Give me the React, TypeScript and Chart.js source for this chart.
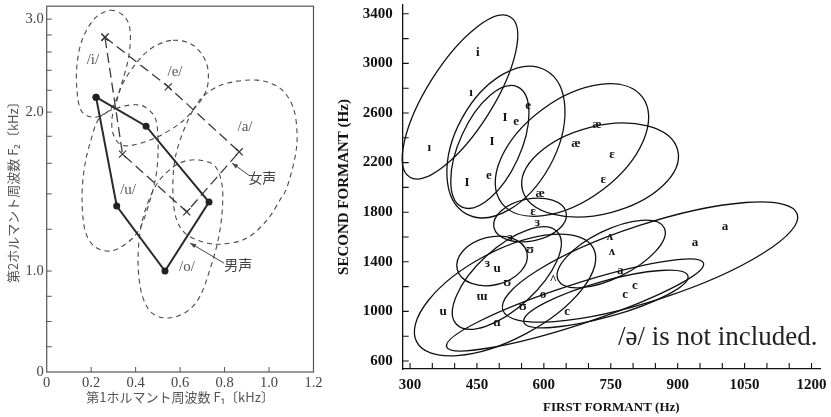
import React, { useEffect, useRef } from 'react';
import { Chart, registerables, LinearScale } from 'chart.js';

Chart.register(...registerables);

// ---------------- Left chart (Japanese vowels), values in kHz ----------------
const jpVowels = ['/i/', '/e/', '/a/', '/o/', '/u/'];
const maleF1 = [0.222, 0.447, 0.730, 0.532, 0.315];
const maleF2 = [2.135, 1.881, 1.351, 1.000, 1.328];
const femaleF1 = [0.262, 0.547, 0.866, 0.630, 0.341];
const femaleF2 = [2.773, 2.233, 1.682, 1.295, 1.665];
const vowelLabelF1 = [0.208, 0.577, 0.892, 0.631, 0.366];
const vowelLabelF2 = [2.508, 2.380, 1.873, 1.018, 1.423];

const regionIF1 = [0.285, 0.348, 0.375, 0.370, 0.339, 0.303, 0.258, 0.204, 0.154, 0.136, 0.136, 0.159, 0.213];
const regionIF2 = [3.118, 3.038, 2.858, 2.564, 2.278, 2.070, 1.982, 1.957, 2.017, 2.201, 2.454, 2.736, 2.999];
const regionEF1 = [0.568, 0.658, 0.717, 0.726, 0.703, 0.658, 0.600, 0.496, 0.388, 0.330, 0.298, 0.294, 0.312, 0.343, 0.406, 0.478];
const regionEF2 = [2.736, 2.678, 2.486, 2.278, 2.135, 2.017, 1.906, 1.793, 1.732, 1.739, 1.824, 1.948, 2.079, 2.268, 2.486, 2.654];
const regionAF1 = [0.658, 0.721, 0.811, 0.946, 1.049, 1.108, 1.126, 1.117, 1.081, 1.049, 0.991, 0.901, 0.793, 0.703, 0.622, 0.582, 0.568, 0.573, 0.600];
const regionAF2 = [2.017, 2.172, 2.268, 2.299, 2.220, 2.044, 1.824, 1.644, 1.442, 1.363, 1.249, 1.155, 1.125, 1.135, 1.180, 1.260, 1.392, 1.587, 1.770];
const regionUF1 = [0.240, 0.330, 0.420, 0.474, 0.496, 0.501, 0.492, 0.465, 0.420, 0.361, 0.285, 0.213, 0.172, 0.159, 0.168, 0.195];
const regionUF2 = [1.957, 2.044, 2.062, 1.991, 1.890, 1.694, 1.519, 1.363, 1.206, 1.130, 1.091, 1.115, 1.196, 1.363, 1.553, 1.747];
const regionOF1 = [0.568, 0.622, 0.690, 0.757, 0.789, 0.789, 0.771, 0.739, 0.690, 0.627, 0.546, 0.474, 0.429, 0.411, 0.420, 0.451, 0.501];
const regionOF2 = [1.573, 1.615, 1.622, 1.580, 1.454, 1.293, 1.145, 1.022, 0.752, 0.594, 0.535, 0.584, 0.762, 1.026, 1.185, 1.333, 1.474];

const voiceLabels = ['女声', '男声'];
const voiceLabelF1 = [0.969, 0.861];
const voiceLabelF2 = [1.500, 1.026];
const voiceArrowFromF1 = [0.915, 0.798];
const voiceArrowFromF2 = [1.513, 1.035];
const voiceArrowToF1 = [0.834, 0.645];
const voiceArrowToF2 = [1.601, 1.130];

const jpXTicks = [0, 0.2, 0.4, 0.6, 0.8, 1.0, 1.2];
const jpYTicks = [0, 0.25, 0.5, 0.75, 1.0, 1.2, 1.4, 1.6, 1.8, 2.0, 2.2, 2.4, 2.6, 2.8, 3.0];
const jpYLabelled = [0, 1, 2, 3];

// ---------------- Right chart (English vowels), values in Hz ----------------
const enSymbols = ['i', 'ı', 'ı', 'I', 'I', 'I', 'e', 'e', 'e', 'æ', 'æ', 'æ', 'ɛ', 'ɛ', 'ɛ', 'ɜ', 'ɜ', 'ɜ', 'u', 'ʊ', 'ʊ', 'ɯ', 'u', 'o', 'ʊ', 'ɑ', '^', 'ʌ', 'ʌ', 'c', 'c', 'c', 'a', 'a', 'a'];
const enSymbolF1 = [452, 437, 343, 513, 484, 428, 538, 565, 477, 719, 672, 592, 753, 733, 576, 585, 524, 473, 495, 569, 518, 461, 374, 598, 553, 495, 621, 748, 753, 652, 804, 782, 771, 939, 1006];
const enSymbolF2 = [3084, 2761, 2318, 2560, 2366, 2036, 2528, 2657, 2092, 2503, 2350, 1947, 2261, 2060, 1802, 1713, 1592, 1382, 1342, 1495, 1229, 1116, 995, 1132, 1036, 907, 1253, 1600, 1479, 995, 1205, 1132, 1326, 1552, 1681];

// regions: centre, end of one semi-axis, end of the conjugate semi-axis
const enRegionCF1 = [412, 479, 515, 663, 726, 569, 484, 517, 513, 739, 751, 838, 670];
const enRegionCF2 = [2729, 2326, 2366, 2302, 2140, 1737, 1407, 1269, 1132, 1100, 1463, 1398, 1052];
const enRegionMajF1 = [525, 541, 604, 821, 900, 650, 562, 630, 711, 923, 870, 1168, 958];
const enRegionMajF2 = [3374, 2811, 2945, 2728, 2300, 1797, 1476, 1642, 1510, 1286, 1673, 1786, 1389];
const enRegionMinF1 = [475, 541, 613, 731, 750, 579, 497, 563, 559, 750, 774, 865, 684];
const enRegionMinF2 = [2587, 2225, 2171, 1979, 1797, 1571, 1219, 1092, 819, 961, 1289, 1107, 898];

const enXTicks = [300, 350, 400, 450, 500, 550, 600, 650, 700, 750, 800, 850, 900, 950, 1000, 1050, 1100, 1150, 1200];
const enXLabelled = [300, 450, 600, 750, 900, 1050, 1200];
const enYTicks = [600, 800, 1000, 1200, 1400, 1600, 1800, 2000, 2200, 2400, 2600, 2800, 3000, 3200, 3400];
const enYLabelled = [600, 1000, 1400, 1800, 2200, 2600, 3000, 3400];
const enNote = '/ə/ is not included.';
const enNoteF1 = 990;
const enNoteF2 = 785;

const SERIF = '"Liberation Serif", "DejaVu Serif", serif';
const CJK = '"Noto Sans CJK JP", "Noto Sans", sans-serif';

// ---------------- custom warped scale (linear below 1 kHz, logarithmic above) ----------------
const LOG_GAIN = 2.272;
function warp(v: number) { return v <= 1 ? v : 1 + LOG_GAIN * Math.log(v); }
function unwarp(w: number) { return w <= 1 ? w : Math.exp((w - 1) / LOG_GAIN); }

class WarpScale extends (LinearScale as any) {
  getPixelForValue(value: number) {
    if (value === null || value === undefined || isNaN(value)) return NaN;
    const w0 = warp(this.min), w1 = warp(this.max);
    return this.bottom - ((warp(value) - w0) / (w1 - w0)) * (this.bottom - this.top);
  }
  getValueForPixel(pixel: number) {
    const w0 = warp(this.min), w1 = warp(this.max);
    return unwarp(w0 + ((this.bottom - pixel) / (this.bottom - this.top)) * (w1 - w0));
  }
}
(WarpScale as any).id = 'warp';
(WarpScale as any).defaults = (LinearScale as any).defaults;
Chart.register(WarpScale as any);

function closedSpline(ctx: CanvasRenderingContext2D, pts: number[][]) {
  const n = pts.length;
  ctx.beginPath();
  ctx.moveTo(pts[0][0], pts[0][1]);
  for (let i = 0; i < n; i++) {
    const p0 = pts[(i - 1 + n) % n], p1 = pts[i], p2 = pts[(i + 1) % n], p3 = pts[(i + 2) % n];
    ctx.bezierCurveTo(
      p1[0] + (p2[0] - p0[0]) / 6, p1[1] + (p2[1] - p0[1]) / 6,
      p2[0] - (p3[0] - p1[0]) / 6, p2[1] - (p3[1] - p1[1]) / 6,
      p2[0], p2[1]);
  }
  ctx.closePath();
}

function arrow(ctx: CanvasRenderingContext2D, x0: number, y0: number, x1: number, y1: number) {
  ctx.beginPath();
  ctx.moveTo(x0, y0);
  ctx.lineTo(x1, y1);
  ctx.stroke();
  const ang = Math.atan2(y1 - y0, x1 - x0);
  const L = 6, W = 2.2;
  ctx.beginPath();
  ctx.moveTo(x1, y1);
  ctx.lineTo(x1 - L * Math.cos(ang) + W * Math.sin(ang), y1 - L * Math.sin(ang) - W * Math.cos(ang));
  ctx.lineTo(x1 - L * Math.cos(ang) - W * Math.sin(ang), y1 - L * Math.sin(ang) + W * Math.cos(ang));
  ctx.closePath();
  ctx.fill();
}

const jpRegions = [
  [regionIF1, regionIF2], [regionEF1, regionEF2], [regionAF1, regionAF2], [regionUF1, regionUF2], [regionOF1, regionOF2],
];

const jpPlugin = {
  id: 'jpDecor',
  beforeDatasetsDraw(chart: any) {
    const { ctx, scales: { x, y } } = chart;
    ctx.save();
    ctx.strokeStyle = '#4a4a4a';
    ctx.lineWidth = 1.1;
    ctx.setLineDash([5, 4]);
    for (const [f1, f2] of jpRegions) {
      const pts = f1.map((v: number, i: number) => [x.getPixelForValue(v), y.getPixelForValue(f2[i])]);
      closedSpline(ctx, pts);
      ctx.stroke();
    }
    ctx.restore();
  },
  afterDatasetsDraw(chart: any) {
    const { ctx, chartArea: a, scales: { x, y } } = chart;
    ctx.save();
    // frame
    ctx.strokeStyle = '#555';
    ctx.lineWidth = 1.2;
    ctx.strokeRect(a.left, a.top, a.right - a.left, a.bottom - a.top);
    // inside ticks
    ctx.lineWidth = 1;
    ctx.beginPath();
    for (const v of jpYTicks) {
      if (v === 0) continue;
      const py = y.getPixelForValue(v);
      ctx.moveTo(a.left, py); ctx.lineTo(a.left + 5, py);
    }
    for (const v of jpXTicks) {
      if (v === 0 || v === 1.2) continue;
      const px = x.getPixelForValue(v);
      ctx.moveTo(px, a.bottom); ctx.lineTo(px, a.bottom - 5);
    }
    ctx.stroke();
    // vowel labels
    ctx.fillStyle = '#555';
    ctx.textAlign = 'center';
    ctx.textBaseline = 'middle';
    ctx.font = `15px ${SERIF}`;
    jpVowels.forEach((t, i) => ctx.fillText(t, x.getPixelForValue(vowelLabelF1[i]), y.getPixelForValue(vowelLabelF2[i])));
    // voice labels and arrows
    ctx.font = `14px ${CJK}`;
    ctx.strokeStyle = '#444';
    ctx.fillStyle = '#444';
    voiceLabels.forEach((t, i) => {
      ctx.fillText(t, x.getPixelForValue(voiceLabelF1[i]), y.getPixelForValue(voiceLabelF2[i]));
      arrow(ctx, x.getPixelForValue(voiceArrowFromF1[i]), y.getPixelForValue(voiceArrowFromF2[i]),
        x.getPixelForValue(voiceArrowToF1[i]), y.getPixelForValue(voiceArrowToF2[i]));
    });
    ctx.restore();
  },
};

const enPlugin = {
  id: 'enDecor',
  beforeDatasetsDraw(chart: any) {
    const { ctx, scales: { x, y } } = chart;
    ctx.save();
    ctx.strokeStyle = '#111';
    ctx.lineWidth = 1.3;
    enRegionCF1.forEach((_, i) => {
      const cx = x.getPixelForValue(enRegionCF1[i]), cy = y.getPixelForValue(enRegionCF2[i]);
      const ax = x.getPixelForValue(enRegionMajF1[i]) - cx, ay = y.getPixelForValue(enRegionMajF2[i]) - cy;
      const bx = x.getPixelForValue(enRegionMinF1[i]) - cx, by = y.getPixelForValue(enRegionMinF2[i]) - cy;
      ctx.beginPath();
      ctx.save();
      ctx.transform(ax, ay, bx, by, cx, cy);
      ctx.arc(0, 0, 1, 0, Math.PI * 2);
      ctx.restore();
      ctx.stroke();
    });
    ctx.restore();
  },
  afterDatasetsDraw(chart: any) {
    const { ctx, chartArea: a, scales: { x, y } } = chart;
    ctx.save();
    // vowel symbols at their data points
    const meta = chart.getDatasetMeta(0);
    ctx.fillStyle = '#111';
    ctx.textAlign = 'center';
    ctx.textBaseline = 'middle';
    ctx.font = `bold 13px ${SERIF}`;
    meta.data.forEach((pt: any, i: number) => ctx.fillText(enSymbols[i], pt.x, pt.y));
    // inside ticks
    ctx.strokeStyle = '#111';
    ctx.lineWidth = 1.1;
    ctx.beginPath();
    for (const v of enYTicks) {
      const py = y.getPixelForValue(v);
      ctx.moveTo(a.left, py); ctx.lineTo(a.left + 6, py);
    }
    for (const v of enXTicks) {
      const px = x.getPixelForValue(v);
      ctx.moveTo(px, a.bottom); ctx.lineTo(px, a.bottom - 6);
    }
    ctx.stroke();
    // note
    ctx.fillStyle = '#222';
    ctx.font = `27px ${SERIF}`;
    ctx.fillText(enNote, x.getPixelForValue(enNoteF1), y.getPixelForValue(enNoteF2));
    ctx.restore();
  },
};

function jpConfig(): any {
  const closed = [0, 1, 2, 3, 4, 0];
  return {
    type: 'scatter',
    data: {
      datasets: [
        {
          label: '男声',
          data: closed.map((i) => ({ x: maleF1[i], y: maleF2[i] })),
          showLine: true,
          borderColor: '#2a2a2a',
          borderWidth: 2,
          pointRadius: 3.5,
          pointBackgroundColor: '#222',
          pointBorderWidth: 0,
        },
        {
          label: '女声',
          data: closed.map((i) => ({ x: femaleF1[i], y: femaleF2[i] })),
          showLine: true,
          borderColor: '#3a3a3a',
          borderWidth: 1.3,
          borderDash: [10, 5],
          pointStyle: 'crossRot',
          pointRadius: 5,
          pointBorderColor: '#333',
          pointBorderWidth: 1.2,
        },
      ],
    },
    options: {
      responsive: false,
      animation: false,
      devicePixelRatio: 1,
      layout: { padding: { left: 0, right: 16.5, top: 6, bottom: 0 } },
      plugins: { legend: { display: false }, tooltip: { enabled: false } },
      scales: {
        x: {
          type: 'linear',
          min: 0,
          max: 1.2,
          afterBuildTicks: (s: any) => { s.ticks = jpXTicks.map((v) => ({ value: v })); },
          afterFit: (s: any) => { s.height = 45; s.paddingLeft = 0; s.paddingRight = 0; },
          grid: { display: false, drawTicks: false },
          border: { display: false },
          ticks: {
            autoSkip: false, maxRotation: 0, minRotation: 0, padding: 2, color: '#444',
            font: { family: SERIF, size: 14.5 },
            callback: (v: number) => (v === 0 ? '0' : Number(v).toFixed(1)),
          },
          title: {
            display: true, text: '第1ホルマント周波数 F₁〔kHz〕', color: '#555',
            font: { family: CJK, size: 13 }, padding: { top: 0, bottom: 12 },
          },
        },
        y: {
          type: 'warp',
          min: 0,
          max: 3.174,
          afterBuildTicks: (s: any) => { s.ticks = jpYTicks.map((v) => ({ value: v })); },
          afterFit: (s: any) => { s.width = 46.7; s.paddingTop = 0; s.paddingBottom = 0; },
          grid: { display: false, drawTicks: false },
          border: { display: false },
          ticks: {
            autoSkip: false, padding: 3, color: '#444',
            font: { family: SERIF, size: 14.5 },
            callback: (v: number) => (jpYLabelled.includes(v) ? (v === 0 ? '0' : Number(v).toFixed(1)) : ''),
          },
          title: {
            display: true, text: '第2ホルマント周波数 F₂〔kHz〕', color: '#555',
            font: { family: CJK, size: 13 }, padding: { top: 5, bottom: 0 },
          },
        },
      },
    },
    plugins: [jpPlugin],
  };
}

function enConfig(): any {
  return {
    type: 'scatter',
    data: {
      datasets: [
        {
          label: 'vowels',
          data: enSymbolF1.map((v, i) => ({ x: v, y: enSymbolF2[i] })),
          pointRadius: 0,
          pointHoverRadius: 0,
        },
      ],
    },
    options: {
      responsive: false,
      animation: false,
      devicePixelRatio: 1,
      layout: { padding: { left: 0, right: 11, top: 5, bottom: 0 } },
      plugins: { legend: { display: false }, tooltip: { enabled: false } },
      scales: {
        x: {
          type: 'linear',
          min: 283.6,
          max: 1219,
          afterBuildTicks: (s: any) => { s.ticks = enXTicks.map((v) => ({ value: v })); },
          afterFit: (s: any) => { s.height = 48; s.paddingLeft = 0; s.paddingRight = 0; },
          grid: { display: false, drawTicks: false },
          border: { display: true, color: '#111', width: 1.3 },
          ticks: {
            autoSkip: false, maxRotation: 0, minRotation: 0, padding: 7, color: '#111',
            font: { family: SERIF, size: 15, weight: 'bold' },
            callback: (v: number) => (enXLabelled.includes(v) ? String(v) : ''),
          },
          title: {
            display: true, text: 'FIRST FORMANT (Hz)', color: '#111',
            font: { family: SERIF, size: 13, weight: 'bold' }, padding: { top: 0, bottom: 2 },
          },
        },
        y: {
          type: 'linear',
          min: 535.5,
          max: 3471,
          afterBuildTicks: (s: any) => { s.ticks = enYTicks.map((v) => ({ value: v })); },
          afterFit: (s: any) => { s.width = 72.7; s.paddingTop = 0; s.paddingBottom = 0; },
          grid: { display: false, drawTicks: false },
          border: { display: true, color: '#111', width: 1.3 },
          ticks: {
            autoSkip: false, padding: 10, color: '#111',
            font: { family: SERIF, size: 15, weight: 'bold' },
            callback: (v: number) => (enYLabelled.includes(v) ? String(v) : ''),
          },
          title: {
            display: true, text: 'SECOND FORMANT (Hz)', color: '#111',
            font: { family: SERIF, size: 15, weight: 'bold' }, padding: { top: 5, bottom: 0 },
          },
        },
      },
    },
    plugins: [enPlugin],
  };
}

export default function App() {
  const leftRef = useRef<HTMLCanvasElement>(null);
  const rightRef = useRef<HTMLCanvasElement>(null);
  useEffect(() => {
    const l = new Chart(leftRef.current as HTMLCanvasElement, jpConfig());
    const r = new Chart(rightRef.current as HTMLCanvasElement, enConfig());
    return () => { l.destroy(); r.destroy(); };
  }, []);
  return (
    <div style={{ position: 'absolute', left: 0, top: 0, width: 831, height: 417, background: '#fff', overflow: 'hidden' }}>
      <canvas ref={leftRef} width={330} height={417} style={{ position: 'absolute', left: 0, top: 0, width: 330, height: 417 }} />
      <canvas ref={rightRef} width={501} height={417} style={{ position: 'absolute', left: 330, top: 0, width: 501, height: 417 }} />
    </div>
  );
}
